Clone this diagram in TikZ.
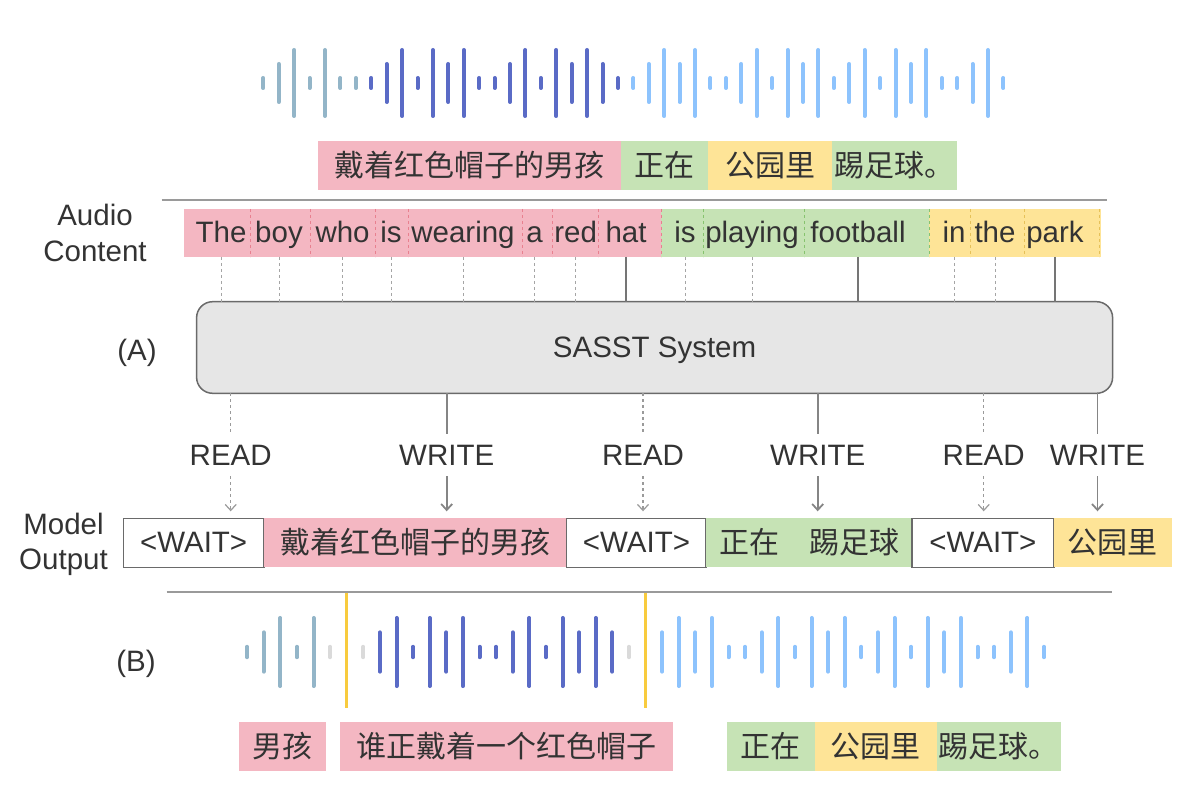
\documentclass[tikz,border=0pt]{standalone}
\usepackage{fontspec}
\setmainfont{Liberation Sans}
\newfontfamily\zhfont{Noto Sans CJK SC}
\usepackage{tikz}
\usetikzlibrary{positioning,arrows.meta}

\definecolor{pinkc}{HTML}{F4B7C2}
\definecolor{greenc}{HTML}{C6E3B5}
\definecolor{yellowc}{HTML}{FEE497}
\definecolor{pinkd}{HTML}{E8808F}
\definecolor{greend}{HTML}{86C36E}
\definecolor{yellowd}{HTML}{E6C158}
\definecolor{waveA}{HTML}{93B5C8}
\definecolor{waveB}{HTML}{5A6BC6}
\definecolor{waveC}{HTML}{8DC3FD}
\definecolor{waveoff}{HTML}{DADADA}
\definecolor{cutc}{HTML}{F8CB3E}
\definecolor{txtc}{HTML}{333333}
\definecolor{boxc}{HTML}{6A6A6A}
\definecolor{sysfill}{HTML}{E6E6E6}
\definecolor{sepc}{HTML}{9A9A9A}
\definecolor{tickc}{HTML}{A5A5A5}
\definecolor{tickonc}{HTML}{757575}
\definecolor{readc}{HTML}{9A9A9A}
\definecolor{writec}{HTML}{858585}

\def\wavelist{7,21,35,7,35,7,7,7,21,35,7,35,21,35,7,7,21,35,7,35,21,35,21,7,7,21,35,21,35,7,7,21,35,7,35,21,35,7,21,35,7,35,21,35,7,7,21,35,7}

\tikzset{
  txt/.style={inner sep=0pt,outer sep=0pt,text height=22pt,text depth=2pt},
  chunk/.style={inner sep=0pt,outer sep=0pt,minimum height=49pt,font=\zhfont\fontsize{30}{36}\selectfont,text height=26pt,text depth=4pt},
  word/.style={txt,minimum height=48pt},
  outbox/.style={txt,draw=boxc,fill=white,line width=1.5pt,minimum height=49pt},
  system/.style={txt,draw=boxc,fill=sysfill,line width=1.5pt,rounded corners=16pt},
  act/.style={txt,inner sep=9pt},
  bar/.style={line width=4pt,line cap=round},
  cut/.style={draw=cutc,line width=3pt},
  sep/.style={draw=sepc,line width=2pt},
  divider/.style={dashed,line width=1pt},
  tick/.style={draw=tickc,dashed,line width=1pt},
  tickon/.style={draw=tickonc,line width=1.5pt},
  readline/.style={draw=readc,dashed,line width=1.2pt},
  writeline/.style={draw=writec,line width=1.8pt},
}

\begin{document}
\begin{tikzpicture}[x=1pt,y=-1pt,>={Straight Barb[length=6pt,width=11pt]},
  every node/.style={font=\fontsize{29.5}{35.7}\selectfont,text=txtc}]
\useasboundingbox (0,0) rectangle (1200,805);

\foreach \h [count=\i] in \wavelist {
  \ifnum\i<8 \def\wc{waveA}\else\ifnum\i<25 \def\wc{waveB}\else\def\wc{waveC}\fi\fi
  \draw[bar,\wc] ({263.3+(\i-1)*15.42},{85-\h}) -- ++(0,{2*\h-4});
}

\node[chunk,fill=pinkc,minimum width=302.4pt] (src1) at (469.5,165.5) {戴着红色帽子的男孩};
\node[chunk,fill=greenc,minimum width=87.6pt,right=0pt of src1] (src2) {正在};
\node[chunk,fill=yellowc,minimum width=123.4pt,right=0pt of src2] (src3) {公园里};
\node[chunk,fill=greenc,minimum width=125pt,right=0pt of src3] (src4) {踢足球。};

\draw[sep] (161.7,200) -- (1107,200);

\node[align=center] (audio) at (95,233) {Audio\\Content};
\fill[pinkc] (184,209) rectangle (661,257);
\fill[greenc] (661,209) rectangle (929,257);
\fill[yellowc] (929,209) rectangle (1101,257);
\foreach \x in {250,310,375,408,522,552,598.6,661} \draw[divider,pinkd] (\x,209) -- (\x,257);
\foreach \x in {703,804,929} \draw[divider,greend] (\x,209) -- (\x,257);
\foreach \x in {970,1024.6,1099.6} \draw[divider,yellowd] (\x,209) -- (\x,257);
\foreach \n/\x/\wtxt in {w1/221/The,w2/279/boy,w3/342.6/who,w4/391/is,w5/463/wearing,w6/534.5/a,w7/575.6/red,w8/626/hat,w9/685/is,w10/752/playing,w11/858/football,w12/954/in,w13/995/the,w14/1055/park}
  \node[word] (\n) at (\x,233) {\wtxt};

\node[system,minimum width=916pt,minimum height=91.6pt] (sasst) at (654.6,347.5) {SASST System};
\node[txt] (labA) at (137,350) {(A)};
\foreach \n in {w1,w2,w3,w4,w5,w6,w7,w9,w10,w12,w13}
  \draw[tick] (\n.south) -- (\n.south |- sasst.north);
\foreach \n in {w8,w11,w14}
  \draw[tickon] (\n.south) -- (\n.south |- sasst.north);

\node[align=center] (model) at (63.5,544.5) {Model\\Output};
\node[outbox,minimum width=140.7pt] (wait1) at (193.65,542.8) {<WAIT>};
\node[chunk,fill=pinkc,minimum width=302.7pt,right=0pt of wait1] (out1) {戴着红色帽子的男孩};
\node[outbox,minimum width=139.5pt,right=0pt of out1] (wait2) {<WAIT>};
\node[chunk,fill=greenc,minimum width=205.6pt,right=0pt of wait2] (out2) {正在　踢足球};
\node[outbox,minimum width=142.2pt,right=0pt of out2] (wait3) {<WAIT>};
\node[chunk,fill=yellowc,minimum width=117.9pt,right=0pt of wait3] (out3) {公园里};

\node[act] (read1) at (230.7,455) {READ};
\node[act] (write1) at (446.7,455) {WRITE};
\node[act] (read2) at (643,455) {READ};
\node[act] (write2) at (817.7,455) {WRITE};
\node[act] (read3) at (983.7,455) {READ};
\node[act] (write3) at (1097.5,455) {WRITE};
\draw[readline] (read1 |- sasst.south) -- (read1);
\draw[readline,->,shorten >=7pt] (read1) -- (read1 |- wait1.north);
\draw[writeline] (write1 |- sasst.south) -- (write1);
\draw[writeline,->,shorten >=7pt] (write1) -- (write1 |- out1.north);
\draw[readline] (read2 |- sasst.south) -- (read2);
\draw[readline,->,shorten >=7pt] (read2) -- (read2 |- wait2.north);
\draw[writeline] (write2 |- sasst.south) -- (write2);
\draw[writeline,->,shorten >=7pt] (write2) -- (write2 |- out2.north);
\draw[readline] (read3 |- sasst.south) -- (read3);
\draw[readline,->,shorten >=7pt] (read3) -- (read3 |- wait3.north);
\draw[writeline] (write3 |- sasst.south) -- (write3);
\draw[writeline,->,shorten >=7pt] (write3) -- (write3 |- out3.north);

\draw[sep] (166.7,592) -- (1112,592);
\node[txt] (labB) at (136,661.7) {(B)};
\foreach \h [count=\i] in \wavelist {
  \ifnum\i<6 \def\wc{waveA}\else\ifnum\i<9 \def\wc{waveoff}\else\ifnum\i<24 \def\wc{waveB}\else\ifnum\i<25 \def\wc{waveoff}\else\def\wc{waveC}\fi\fi\fi\fi
  \ifnum\i=7 \else\ifnum\i=25 \else
    \draw[bar,\wc] ({247.1+(\i-1)*16.6},{654-1.03*\h}) -- ++(0,{2.06*\h-4});
  \fi\fi
}
\draw[cut] (346.7,593) -- (346.7,708);
\draw[cut] (645.5,593) -- (645.5,708);

\node[chunk,fill=pinkc,minimum width=86.7pt] (tgt1) at (282.4,746.2) {男孩};
\node[chunk,fill=pinkc,minimum width=332.3pt,right=14.6pt of tgt1] (tgt2) {谁正戴着一个红色帽子};
\node[chunk,fill=greenc,minimum width=87.8pt,right=54.2pt of tgt2] (tgt3) {正在};
\node[chunk,fill=yellowc,minimum width=121.9pt,right=0pt of tgt3] (tgt4) {公园里};
\node[chunk,fill=greenc,minimum width=124.5pt,right=0pt of tgt4] (tgt5) {踢足球。};
\end{tikzpicture}
\end{document}
